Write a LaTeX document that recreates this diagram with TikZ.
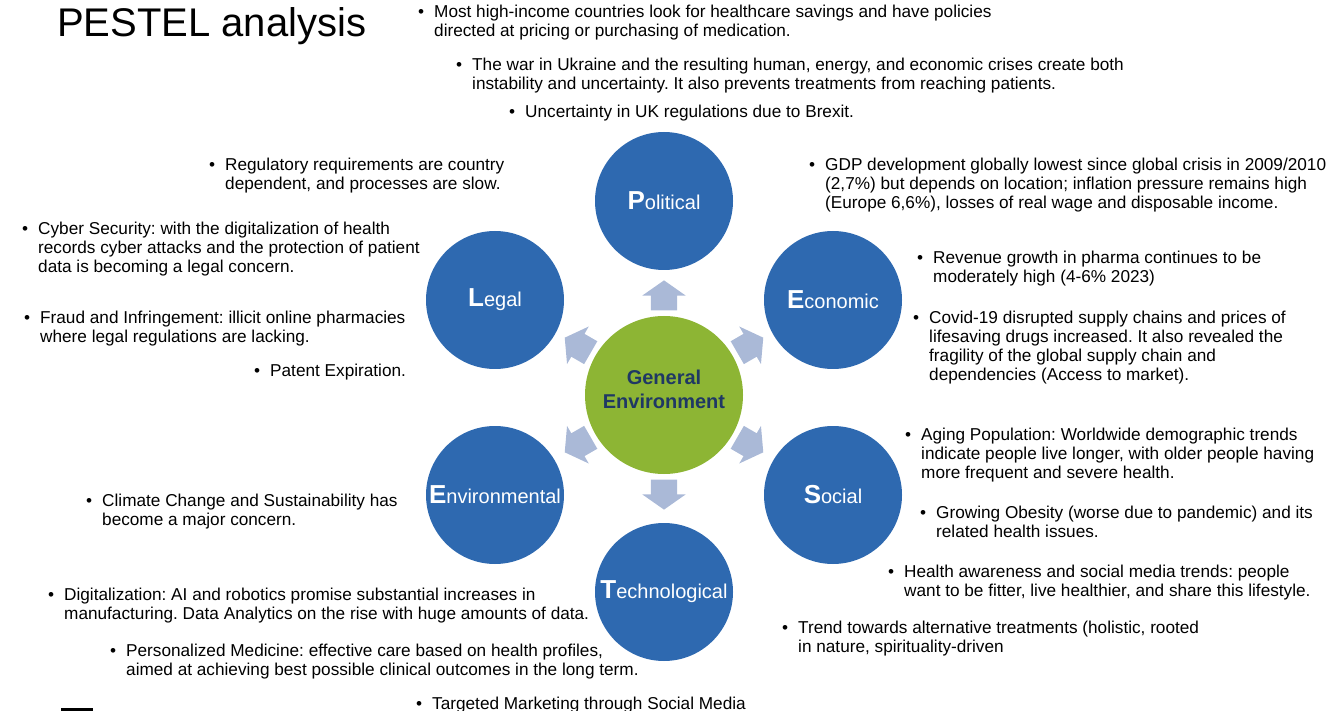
\documentclass[tikz,border=0pt]{standalone}
\usepackage{fontspec}
\setmainfont{Liberation Sans}
\usetikzlibrary{shapes.arrows,calc}
\definecolor{pblue}{RGB}{46,105,176}
\definecolor{pgreen}{RGB}{141,181,52}
\definecolor{parrow}{RGB}{170,185,215}
\definecolor{pnavy}{RGB}{31,56,100}
\newcommand{\bitem}[1]{\makebox[16pt][l]{•}\begin{tabular}[t]{@{}l@{}}#1\end{tabular}}
\newcommand{\initl}[1]{{\fontsize{26}{26}\selectfont\bfseries #1}}
\frenchspacing
\begin{document}
\begin{tikzpicture}[x=1pt,y=1pt,
 factor/.style={circle, fill=pblue, minimum size=138pt, inner sep=0pt, text=white, font=\fontsize{20}{24}\selectfont},
 core/.style={circle, fill=pgreen, minimum size=158pt, inner sep=0pt},
 coretext/.style={text=pnavy, font=\fontsize{20}{24}\selectfont\bfseries, align=center, inner sep=0pt},
 blk/.style={single arrow, fill=parrow, inner xsep=0pt, inner ysep=13pt, minimum height=30pt, single arrow head extend=8.5pt, single arrow tip angle=110, single arrow head indent=0pt},
 txt/.style={anchor=base west, inner sep=0pt, font=\fontsize{17.2}{19}\selectfont}
]
\useasboundingbox (0,0) rectangle (1334,-711);

% title
\node[anchor=base west, inner sep=0pt, font=\fontsize{40}{44}\selectfont] (title) at (57,-37) {PESTEL analysis};

% circles
\node[core] (G) at (664,-395) {};
\node[coretext] (Gt) at (664,-389) {General\\Environment};
\node[factor] (P) at (664,-201) {\initl{P}olitical};
\node[factor] (E) at (833,-300) {\initl{E}conomic};
\node[factor] (S) at (833,-495) {\initl{S}ocial};
\node[factor] (T) at (664,-592) {\initl{T}echnological};
\node[factor] (En) at (495,-495) {\initl{E}nvironmental};
\node[factor] (L) at (495,-300) {\initl{L}egal};

% block arrows
\foreach \a/\n in {90/aP,30/aE,-30/aS,-90/aT,210/aEn,150/aL}{
  \node[blk, rotate=\a] (\n) at ($(G)+(\a:95)$) {};
}

% Political
\node[txt] (p1) at (418,-18) {\bitem{Most high-income countries look for healthcare savings and have policies\\directed at pricing or purchasing of medication.}};
\node[txt] (p2) at (456,-71) {\bitem{The war in Ukraine and the resulting human, energy, and economic crises create both\\instability and uncertainty. It also prevents treatments from reaching patients.}};
\node[txt] (p3) at (509,-118) {\bitem{Uncertainty in UK regulations due to Brexit.}};

% Economic
\node[txt] (e1) at (809,-171) {\bitem{GDP development globally lowest since global crisis in 2009/2010\\(2,7\%) but depends on location; inflation pressure remains high\\(Europe 6,6\%), losses of real wage and disposable income.}};
\node[txt] (e2) at (917,-264) {\bitem{Revenue growth in pharma continues to be\\moderately high (4-6\% 2023)}};
\node[txt] (e3) at (913,-324) {\bitem{Covid-19 disrupted supply chains and prices of\\lifesaving drugs increased. It also revealed the\\fragility of the global supply chain and\\dependencies (Access to market).}};

% Social
\node[txt] (s1) at (905,-440) {\bitem{Aging Population: Worldwide demographic trends\\indicate people live longer, with older people having\\more frequent and severe health.}};
\node[txt] (s2) at (920,-518) {\bitem{Growing Obesity (worse due to pandemic) and its\\related health issues.}};
\node[txt] (s3) at (888,-577) {\bitem{Health awareness and social media trends: people\\want to be fitter, live healthier, and share this lifestyle.}};
\node[txt] (s4) at (782,-633) {\bitem{Trend towards alternative treatments (holistic, rooted\\in nature, spirituality-driven}};

% Technological
\node[txt] (t1) at (48,-600) {\bitem{Digitalization: AI and robotics promise substantial increases in\\manufacturing. Data Analytics on the rise with huge amounts of data.}};
\node[txt] (t2) at (110,-656) {\bitem{Personalized Medicine: effective care based on health profiles,\\aimed at achieving best possible clinical outcomes in the long term.}};
\node[txt] (t3) at (416,-709) {\bitem{Targeted Marketing through Social Media}};

% Environmental
\node[txt] (v1) at (86,-506) {\bitem{Climate Change and Sustainability has\\become a major concern.}};

% Legal
\node[txt] (l1) at (209,-171) {\bitem{Regulatory requirements are country\\dependent, and processes are slow.}};
\node[txt] (l2) at (22,-235) {\bitem{Cyber Security: with the digitalization of health\\records cyber attacks and the protection of patient\\data is becoming a legal concern.}};
\node[txt] (l3) at (24,-324) {\bitem{Fraud and Infringement: illicit online pharmacies\\where legal regulations are lacking.}};
\node[txt] (l4) at (254,-377) {\bitem{Patent Expiration.}};

% cut-off logo fragment
\fill[black] (61,-707.5) rectangle (93,-711);
\end{tikzpicture}
\end{document}
